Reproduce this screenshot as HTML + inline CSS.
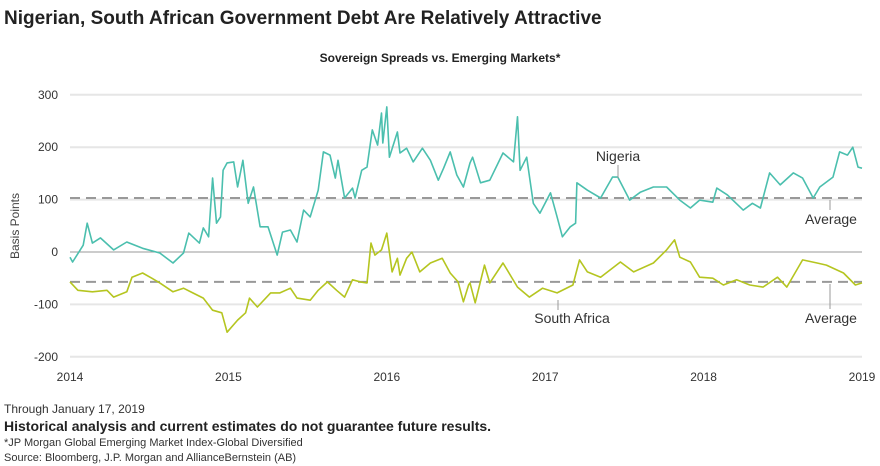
<!DOCTYPE html>
<html><head><meta charset="utf-8"><style>
body{margin:0;width:880px;height:466px;background:#fff;font-family:"Liberation Sans",sans-serif;overflow:hidden}
svg{position:absolute;left:0;top:0}
</style></head><body>
<svg width="880" height="466" id="c">
<text x="4" y="24" font-size="19" font-weight="bold" fill="#222">Nigerian, South African Government Debt Are Relatively Attractive</text>
<text x="440" y="62" font-size="12" font-weight="bold" fill="#222" text-anchor="middle">Sovereign Spreads vs. Emerging Markets*</text>
<text transform="translate(19,226) rotate(-90)" font-size="12" fill="#444" text-anchor="middle">Basis Points</text>
<g id="grid"></g><g id="series"></g><g id="ann"></g>
<text x="4" y="413" font-size="12" fill="#333">Through January 17, 2019</text>
<text x="4" y="431" font-size="14" font-weight="bold" fill="#222">Historical analysis and current estimates do not guarantee future results.</text>
<text x="4" y="446" font-size="11" fill="#333">*JP Morgan Global Emerging Market Index-Global Diversified</text>
<text x="4" y="461" font-size="11" fill="#333">Source: Bloomberg, J.P. Morgan and AllianceBernstein (AB)</text>
</svg>
<script>
const yTicks=[300,200,100,0,-100,-200];
const xTickLabels=["2014","2015","2016","2017","2018","2019"];
const ngMonths=[0,0.2,1.0,1.3,1.7,2.3,3.3,4.3,5.5,6.8,7.8,8.6,9.0,9.8,10.1,10.5,10.8,11.1,11.4,11.6,11.9,12.4,12.7,13.1,13.5,13.9,14.4,15.0,15.7,16.1,16.7,17.2,17.7,18.2,18.8,19.2,19.7,20.1,20.3,20.8,21.4,21.6,22.1,22.5,22.9,23.3,23.6,23.7,24.0,24.2,24.8,25.0,25.5,26.0,26.7,27.3,27.9,28.3,28.8,29.3,29.8,30.3,30.5,31.1,31.8,32.8,33.6,33.9,34.1,34.6,35.1,35.6,36.4,36.9,37.3,37.9,38.3,38.4,39.2,40.2,41.1,41.5,42.4,43.2,44.2,45.2,46.2,47.0,47.7,48.7,49.0,49.8,51.0,51.7,52.3,53.0,53.8,54.8,55.5,56.3,56.8,57.8,58.3,58.9,59.3,59.7,60.0];
const ngValues=[-10,-19,13,55,17,27,4,19,7,-2,-21,-2,36,17,46,29,141,55,67,156,170,172,124,175,93,124,48,48,-6,38,42,19,80,67,118,191,185,141,175,103,122,103,156,162,233,204,265,208,277,181,229,189,198,172,198,175,137,160,191,147,124,170,181,132,137,189,172,258,156,181,93,74,113,67,29,48,55,132,118,103,143,143,99,114,124,124,99,84,99,95,122,109,80,93,84,151,128,151,141,103,124,143,191,185,200,162,160];
const saMonths=[0,0.6,1.7,2.8,3.3,4.3,4.7,5.5,6.2,6.8,7.8,8.6,9.3,10.1,10.8,11.5,11.9,12.7,13.3,13.6,14.2,15.2,15.9,16.7,17.2,18.2,18.8,19.5,20.2,20.8,21.4,22.0,22.5,22.8,23.1,23.6,24.0,24.4,24.8,25.0,25.5,25.9,26.5,27.3,28.2,28.8,29.4,29.8,30.2,30.3,30.7,31.4,31.8,32.8,33.9,34.8,35.8,36.9,38.1,38.6,39.2,40.2,41.7,42.7,44.2,45.2,45.8,46.2,47.0,47.7,48.7,49.5,50.5,51.5,52.5,53.6,54.3,55.5,56.6,57.3,58.6,59.5,60.0];
const saValues=[-57,-73,-76,-73,-86,-76,-48,-40,-50,-59,-76,-69,-78,-88,-111,-116,-153,-130,-116,-88,-105,-78,-78,-69,-88,-92,-73,-57,-73,-86,-53,-57,-59,17,-6,4,36,-38,-12,-44,-12,0,-38,-21,-12,-40,-57,-95,-63,-59,-97,-25,-59,-21,-67,-86,-69,-78,-63,-15,-38,-48,-19,-38,-21,4,23,-10,-19,-48,-50,-63,-53,-63,-67,-48,-67,-15,-21,-25,-40,-63,-59];
const averages=[103,-57];
const NS="http://www.w3.org/2000/svg";
const X0=70,X1=862,Y0=252,PX=0.524;
const xs=m=>X0+(X1-X0)*m/60;
const ys=v=>Y0-v*PX;
function mk(t,a,p){const e=document.createElementNS(NS,t);for(const k in a)e.setAttribute(k,a[k]);p.appendChild(e);return e;}
const grid=document.getElementById('grid'),ser=document.getElementById('series'),ann=document.getElementById('ann');
yTicks.forEach(v=>{
 const l=mk('line',{x1:X0,x2:X1,y1:ys(v),y2:ys(v),stroke:v===0?'#999':'#e6e6e6','stroke-width':v===0?1:2},grid);
 
 
 const t=mk('text',{x:58,y:ys(v)+4,'font-size':12,fill:'#333','text-anchor':'end'},grid);t.textContent=v;
 
 
});
xTickLabels.forEach((s,i)=>{
 const t=mk('text',{x:xs(i*12),y:381,'font-size':12,fill:'#333','text-anchor':'middle'},grid);t.textContent=s;
 
 
});
averages.forEach((v,i)=>{
 const l=mk('line',{x1:X0,x2:X1,y1:ys(v),y2:ys(v),stroke:'#999','stroke-width':2,'stroke-dasharray':'10,6'},grid);
 
 
});
function line(ms,vs,col,name){
 const p=mk('polyline',{points:ms.map((m,i)=>xs(m).toFixed(1)+','+ys(vs[i]).toFixed(1)).join(' '),fill:'none',stroke:col,'stroke-width':1.6,'stroke-linejoin':'round'},ser);
 
 
}
line(saMonths,saValues,'#b5c520','south-africa-line');
line(ngMonths,ngValues,'#4bbfae','nigeria-line');
function lab(x,y,s,lx,ly1,ly2,name){
 const t=mk('text',{x:x,y:y,'font-size':14,fill:'#333','text-anchor':'middle'},ann);t.textContent=s;
 
 
 mk('line',{x1:lx,x2:lx,y1:ly1,y2:ly2,stroke:'#999','stroke-width':1},ann);
}
lab(618,161,'Nigeria',618,165,178,'nigeria-label');
lab(572,323,'South Africa',558,300,310,'south-africa-label');
lab(831,224,'Average',830,200,210,'nigeria-average-label');
lab(831,323,'Average',830,284,309,'south-africa-average-label');
</script>
</body></html>
